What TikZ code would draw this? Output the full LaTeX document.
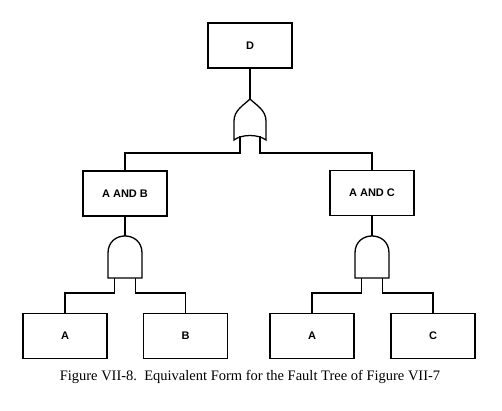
\documentclass[tikz,border=0pt]{standalone}
\usepackage{fontspec}
\setmainfont{Liberation Serif}
\setsansfont{Liberation Sans}
\usetikzlibrary{positioning}

\tikzset{
  event/.style = {draw, line width = 1.3pt, minimum width = 84pt, minimum height = 45pt,
                  font = \sffamily\bfseries\fontsize{11}{13}\selectfont},
  wire/.style = {line width = 1.8pt},
  gate/.style = {line width = 1.3pt},
  orgate/.pic = {
    \draw[gate] (0,0) .. controls (-6,6) and (-16,11) .. (-16,22) -- (-16,41)
      .. controls (-8,35) and (8,35) .. (16,41) -- (16,22)
      .. controls (16,11) and (6,6) .. (0,0) -- cycle;
    \coordinate (-in) at (0,0);
    \coordinate (-l) at (-10,37.5);
    \coordinate (-r) at (10,37.5);
  },
  andgate/.pic = {
    \draw[gate] (-17,42) -- (-17,17) .. controls (-17,-5.7) and (17,-5.7) .. (17,17)
      -- (17,42) -- cycle;
    \coordinate (-in) at (0,0);
    \coordinate (-l) at (-10.5,42);
    \coordinate (-r) at (10.5,42);
  }
}

\begin{document}
\begin{tikzpicture}[x = 1pt, y = -1pt]
  \useasboundingbox (0,0) rectangle (502,411);
  \node[event] (d) at (250,45.5) {D};
  \node[event] (ab) at (125,193.5) {A AND B};
  \node[event] (ac) at (372,193) {A AND C};
  \node[event] (a1) at (65,336) {A};
  \node[event] (b) at (185.5,336) {B};
  \node[event] (a2) at (312,336) {A};
  \node[event] (c) at (433,336) {C};
  \pic (or) at (250,99) {orgate};
  \pic (andl) at (125,236) {andgate};
  \pic (andr) at (372,236) {andgate};
  % connectors
  \draw[wire] (d) -- (or-in);
  \draw[wire] (or-l) -- ++(0,16.5) -| (ab);
  \draw[wire] (or-r) -- ++(0,16.5) -| (ac);
  \draw[wire] (ab) -- (andl-in);
  \draw[wire] (ac) -- (andr-in);
  \draw[wire] (andl-l) -- ++(0,15) -| (a1);
  \draw[wire] (andl-r) -- ++(0,15) -| (b);
  \draw[wire] (andr-l) -- ++(0,15) -| (a2);
  \draw[wire] (andr-r) -- ++(0,15) -| (c);
  \node[font = \fontsize{14.5}{17}\selectfont] (caption) at (250,377)
    {Figure VII-8.\ \ Equivalent Form for the Fault Tree of Figure VII-7};
\end{tikzpicture}
\end{document}
